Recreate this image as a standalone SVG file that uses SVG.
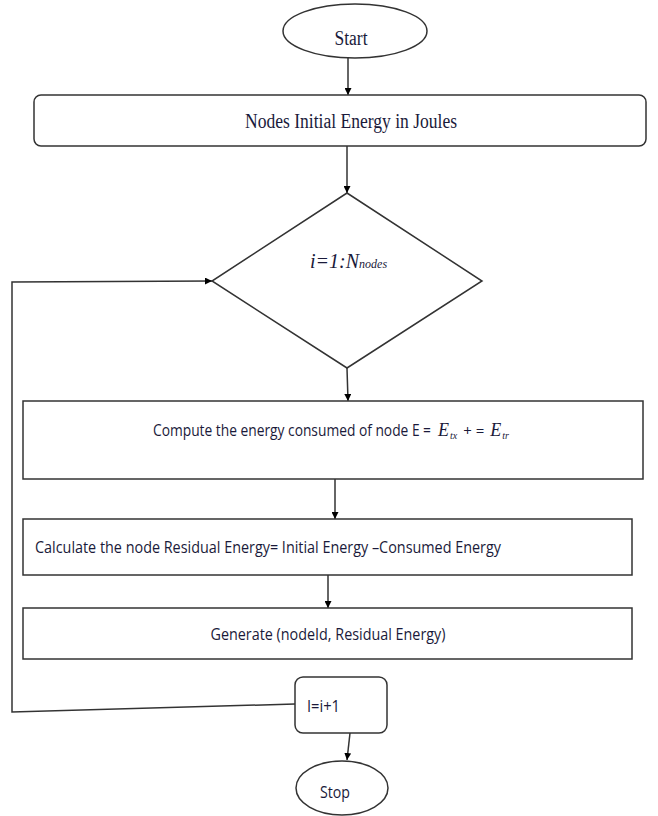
<svg xmlns="http://www.w3.org/2000/svg" width="658" height="816" viewBox="0 0 658 816">
<style>
.sh{fill:#fff;stroke:#333;stroke-width:1.5}
.ln{fill:none;stroke:#333;stroke-width:1.5}
.serif{font-family:"Liberation Serif","Times New Roman",serif;fill:#1a1a3a}
.sans{font-family:"Open Sans","Liberation Sans",sans-serif;fill:#1a1a3a}
.mi{font-family:"Liberation Serif","Times New Roman",serif;font-style:italic}
</style>
<defs>
<marker id="ah" viewBox="0 0 10 10" refX="10" refY="5" markerWidth="7" markerHeight="7" orient="auto" markerUnits="userSpaceOnUse">
<path d="M0,0 L10,5 L0,10 z" fill="#000"/>
</marker>
</defs>
<rect width="658" height="816" fill="#fff"/>
<g id="connectors">
<line class="ln" x1="348" y1="58" x2="348" y2="95" marker-end="url(#ah)"/>
<line class="ln" x1="347" y1="146" x2="347" y2="193" marker-end="url(#ah)"/>
<line class="ln" x1="347" y1="368" x2="348" y2="401" marker-end="url(#ah)"/>
<line class="ln" x1="335" y1="479" x2="335" y2="519" marker-end="url(#ah)"/>
<line class="ln" x1="328" y1="575" x2="328" y2="608" marker-end="url(#ah)"/>
<line class="ln" x1="350" y1="733" x2="347" y2="760" marker-end="url(#ah)"/>
<polyline class="ln" points="295,704 12,712 12,282 212,281" marker-end="url(#ah)"/>
</g>
<g id="start">
<ellipse class="sh" cx="355" cy="31" rx="72" ry="27"/>
<text class="serif" x="351" y="45" font-size="20" text-anchor="middle" textLength="33" lengthAdjust="spacingAndGlyphs">Start</text>
</g>
<g id="init">
<rect class="sh" x="34" y="95" width="612" height="51" rx="7"/>
<text class="serif" x="351" y="128" font-size="20" text-anchor="middle" textLength="212" lengthAdjust="spacingAndGlyphs">Nodes Initial Energy in Joules</text>
</g>
<g id="loop">
<polygon class="sh" points="347,193 482,281 347,368 212,281"/>
<text class="serif" x="310" y="268" font-size="20" font-style="italic">i=<tspan>1</tspan>:N<tspan font-size="12">nodes</tspan></text>
</g>
<g id="compute">
<rect class="sh" x="23" y="401" width="620" height="78"/>
<text class="sans" x="153" y="436" font-size="16" textLength="278" lengthAdjust="spacingAndGlyphs">Compute the energy consumed of node E =</text>
<text class="sans" x="438" y="436" font-size="15"><tspan class="mi" font-size="18">E</tspan><tspan class="mi" font-size="10" dx="1" dy="3">tx</tspan><tspan dy="-3" dx="6">+ =</tspan><tspan class="mi" font-size="18" dx="6">E</tspan><tspan class="mi" font-size="10" dx="1" dy="3">tr</tspan></text>
</g>
<g id="residual">
<rect class="sh" x="23" y="519" width="609" height="56"/>
<text class="sans" x="35" y="553" font-size="16" textLength="466" lengthAdjust="spacingAndGlyphs">Calculate the node Residual Energy= Initial Energy –Consumed Energy</text>
</g>
<g id="generate">
<rect class="sh" x="23" y="608" width="609" height="51"/>
<text class="sans" x="328" y="640" font-size="16" text-anchor="middle" textLength="235" lengthAdjust="spacingAndGlyphs">Generate (nodeId, Residual Energy)</text>
</g>
<g id="incr">
<rect class="sh" x="295" y="677" width="92" height="56" rx="8"/>
<text class="sans" x="307" y="712" font-size="16" textLength="33" lengthAdjust="spacingAndGlyphs">I=i+1</text>
</g>
<g id="stop">
<ellipse class="sh" cx="342" cy="788" rx="46" ry="27"/>
<text class="sans" x="335" y="798" font-size="16" text-anchor="middle" textLength="30" lengthAdjust="spacingAndGlyphs">Stop</text>
</g>
</svg>
